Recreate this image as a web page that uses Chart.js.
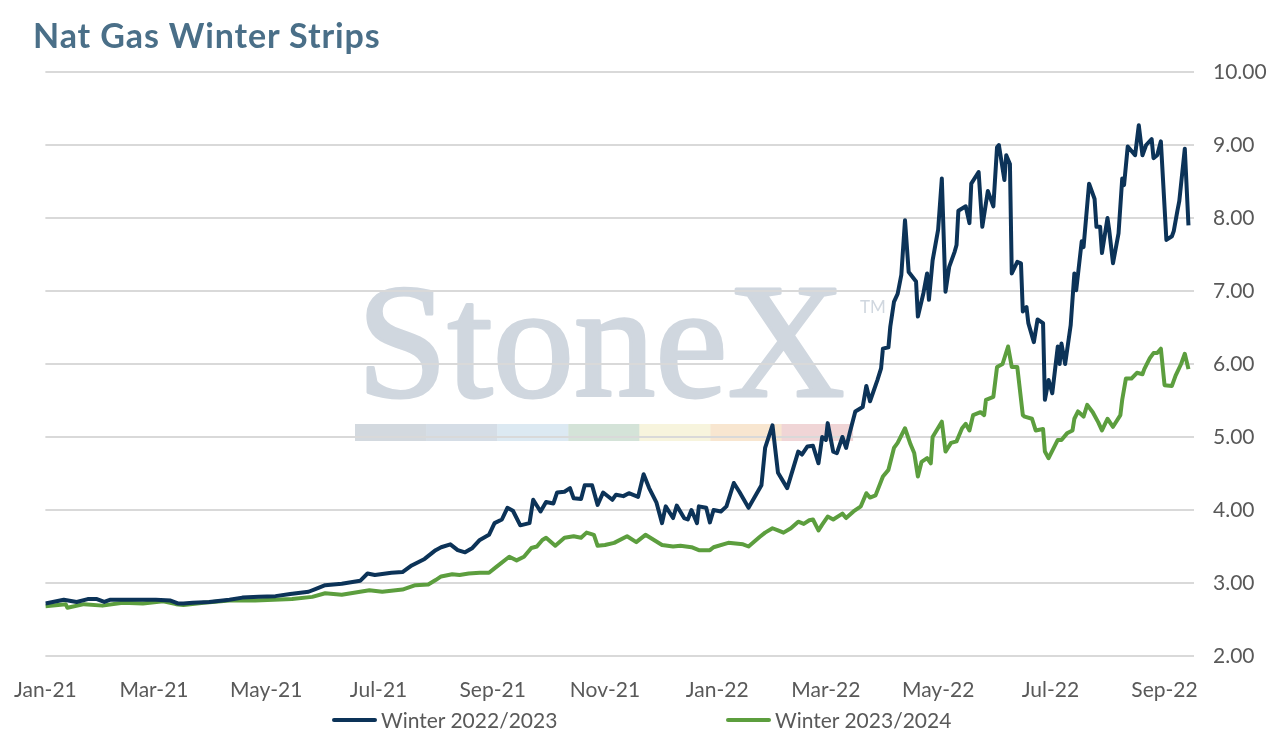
<!DOCTYPE html>
<html>
<head>
<meta charset="utf-8">
<script src="https://cdn.jsdelivr.net/npm/chart.js@4.4.1/dist/chart.umd.min.js"></script>
<style>
  body { margin: 0; background: #fff; }
  #wrap { position: relative; width: 1272px; height: 743px; overflow: hidden; font-family: Lato, "Noto Sans", sans-serif; }
  #chart { position: absolute; left: 0; top: 0; }
  #title { position: absolute; left: 33px; top: 18px; font-size: 34px; line-height: 34px; font-weight: 700; letter-spacing: 0.9px; color: #4a6f88; white-space: nowrap; }
  .leg { position: absolute; top: 708px; font-size: 21px; line-height: 24px; color: #595959; white-space: nowrap; display: flex; align-items: center; }
  .mk { display: inline-block; width: 45px; height: 4px; border-radius: 2px; margin-right: 4px; }
</style>
</head>
<body>
<div id="wrap">
  <canvas id="chart" width="1272" height="743"></canvas>
  <div id="title">Nat Gas Winter Strips</div>
  <div class="leg" style="left:332px"><span class="mk" style="background:#0c3358"></span>Winter 2022/2023</div>
  <div class="leg" style="left:726px"><span class="mk" style="background:#5c9e3e"></span>Winter 2023/2024</div>
</div>
<script>
// x values are days since 1 Jan 2021
const tickLabels = ['Jan-21', 'Mar-21', 'May-21', 'Jul-21', 'Sep-21', 'Nov-21',
                    'Jan-22', 'Mar-22', 'May-22', 'Jul-22', 'Sep-22'];
const yTicks = [2, 3, 4, 5, 6, 7, 8, 9, 10];

const w2223Days = [
    0, 10, 17, 23, 28, 32, 35, 45, 53, 60,
    68, 72, 75, 80, 89, 100, 107, 116, 125, 133,
    143, 147, 152, 161, 171, 175, 179, 188, 194, 199,
    206, 212, 215, 220, 224, 228, 232, 236, 241, 244,
    248, 251, 254, 258, 263, 265, 269, 272, 276, 278,
    282, 285, 287, 291, 293, 297, 300, 303, 308, 310,
    314, 317, 322, 325, 328, 332, 335, 337, 341, 343,
    347, 349, 351, 354, 355, 359, 361, 363, 367, 370,
    374, 377, 382, 389, 391, 395, 398, 403, 409, 411,
    414, 417, 420, 422, 424, 425, 428, 430, 433, 435,
    437, 440, 444, 446, 448, 452, 454, 455, 458, 459,
    461, 463, 465, 467, 469, 473, 474, 477, 479, 480,
    482, 485, 487, 489, 491, 494, 495, 496, 500, 502,
    503, 507, 509, 512, 515, 517, 518, 521, 522, 524,
    525, 528, 530, 531, 533, 534, 537, 539, 542, 543,
    545, 547, 550, 551, 552, 554, 557, 559, 560, 563,
    564, 567, 570, 571, 573, 574, 577, 578, 580, 583,
    585, 586, 588, 592, 594, 596, 598, 601, 602, 604,
    606, 609, 612, 613, 615, 616, 619, 621
];
const w2223Prices = [
    2.72, 2.77, 2.74, 2.78, 2.78, 2.74, 2.77, 2.77, 2.77, 2.77,
    2.76, 2.72, 2.72, 2.73, 2.74, 2.77, 2.80, 2.81, 2.82, 2.85,
    2.88, 2.92, 2.97, 2.99, 3.03, 3.13, 3.11, 3.14, 3.15, 3.24,
    3.33, 3.45, 3.49, 3.53, 3.45, 3.42, 3.48, 3.59, 3.66, 3.82,
    3.87, 4.03, 3.99, 3.79, 3.82, 4.14, 3.98, 4.11, 4.09, 4.24,
    4.25, 4.30, 4.16, 4.15, 4.34, 4.34, 4.07, 4.24, 4.14, 4.21,
    4.19, 4.23, 4.18, 4.49, 4.30, 4.10, 3.82, 4.05, 3.89, 4.06,
    3.89, 3.87, 4.00, 3.82, 4.05, 4.03, 3.83, 4.00, 3.98, 4.05,
    4.37, 4.25, 4.03, 4.34, 4.85, 5.16, 4.51, 4.30, 4.80, 4.76,
    4.87, 4.88, 4.64, 5.00, 4.96, 5.19, 4.80, 4.78, 5.00, 4.85,
    5.06, 5.35, 5.41, 5.70, 5.49, 5.78, 5.94, 6.21, 6.23, 6.51,
    6.85, 6.96, 7.22, 7.97, 7.26, 7.13, 6.65, 6.97, 7.24, 6.88,
    7.42, 7.84, 8.54, 6.99, 7.33, 7.54, 7.63, 8.10, 8.16, 7.93,
    8.47, 8.63, 7.88, 8.37, 8.16, 8.97, 9.00, 8.52, 8.86, 8.74,
    7.24, 7.40, 7.38, 6.72, 6.78, 6.56, 6.30, 6.61, 6.56, 5.51,
    5.78, 5.60, 6.24, 6.00, 6.28, 6.00, 6.53, 7.24, 7.01, 7.68,
    7.60, 8.47, 8.26, 7.88, 7.88, 7.52, 8.00, 7.82, 7.38, 7.79,
    8.54, 8.45, 8.98, 8.86, 9.27, 8.86, 9.00, 9.08, 8.82, 8.86,
    9.05, 7.70, 7.75, 7.82, 8.10, 8.23, 8.95, 7.90
];

const w2324Days = [
    0, 11, 12, 21, 31, 42, 53, 64, 71, 75,
    86, 100, 114, 134, 145, 152, 161, 176, 183, 194,
    201, 208, 212, 215, 221, 225, 230, 236, 241, 245,
    252, 256, 260, 264, 267, 270, 272, 277, 282, 287,
    291, 294, 298, 300, 304, 309, 316, 321, 326, 335,
    341, 345, 351, 355, 361, 363, 371, 379, 382, 388,
    391, 395, 398, 401, 405, 409, 412, 415, 417, 420,
    422, 425, 428, 433, 435, 439, 443, 446, 448, 451,
    455, 458, 461, 463, 467, 470, 472, 474, 476, 479,
    481, 482, 487, 489, 492, 495, 498, 500, 502, 504,
    508, 510, 511, 515, 517, 520, 523, 525, 528, 531,
    532, 536, 538, 542, 543, 545, 550, 552, 555, 558,
    559, 561, 564, 566, 569, 572, 574, 577, 580, 584,
    585, 587, 590, 593, 596, 597, 600, 602, 604, 606,
    608, 612, 614, 617, 619, 621
];
const w2324Prices = [
    2.68, 2.71, 2.66, 2.71, 2.69, 2.73, 2.72, 2.75, 2.71, 2.70,
    2.73, 2.76, 2.76, 2.78, 2.81, 2.86, 2.84, 2.90, 2.88, 2.91,
    2.97, 2.98, 3.04, 3.09, 3.12, 3.11, 3.13, 3.14, 3.14, 3.22,
    3.36, 3.31, 3.36, 3.48, 3.50, 3.59, 3.62, 3.51, 3.62, 3.64,
    3.62, 3.69, 3.66, 3.51, 3.52, 3.55, 3.64, 3.56, 3.66, 3.52,
    3.50, 3.51, 3.49, 3.45, 3.45, 3.49, 3.55, 3.53, 3.50, 3.63,
    3.69, 3.75, 3.72, 3.69, 3.75, 3.84, 3.81, 3.86, 3.87, 3.72,
    3.80, 3.91, 3.87, 3.95, 3.89, 3.98, 4.05, 4.23, 4.17, 4.20,
    4.46, 4.55, 4.85, 4.92, 5.12, 4.90, 4.78, 4.46, 4.66, 4.71,
    4.64, 5.00, 5.21, 4.80, 4.92, 4.94, 5.12, 5.18, 5.09, 5.30,
    5.34, 5.30, 5.51, 5.55, 5.96, 6.00, 6.24, 5.96, 5.96, 5.30,
    5.28, 5.25, 5.09, 5.11, 4.80, 4.71, 4.96, 4.96, 5.05, 5.09,
    5.25, 5.35, 5.28, 5.44, 5.34, 5.20, 5.09, 5.25, 5.14, 5.30,
    5.51, 5.80, 5.80, 5.88, 5.86, 5.93, 6.08, 6.15, 6.15, 6.21,
    5.71, 5.70, 5.84, 6.00, 6.14, 5.93
];

const MONTHS = ['Jan', 'Feb', 'Mar', 'Apr', 'May', 'Jun', 'Jul', 'Aug', 'Sep', 'Oct', 'Nov', 'Dec'];
const DAY0 = Date.UTC(2021, 0, 1);

function labelToDay(label) {
    const [mon, yy] = label.split('-');
    return Math.round((Date.UTC(2000 + Number(yy), MONTHS.indexOf(mon), 1) - DAY0) / 864e5);
}

const tickDays = tickLabels.map(labelToDay);

function toPoints(days, prices) {
    return days.map((d, i) => ({ x: d, y: prices[i] }));
}

const textColor = '#595959';
const tickFont = { family: 'Lato', size: 21 };

// StoneX logo behind the grid
const watermark = {
    id: 'watermark',
    beforeDraw(chart) {
        const ctx = chart.ctx;
        ctx.save();
        ctx.fillStyle = '#d0d7df';
        ctx.strokeStyle = '#d0d7df';
        ctx.lineWidth = 3;
        ctx.lineJoin = 'round';
        ctx.textBaseline = 'alphabetic';
        ctx.font = '160px "Liberation Serif"';
        const w = ctx.measureText('StoneX').width;
        const size = 160 * 488 / w;
        ctx.font = size + 'px "Liberation Serif"';
        ctx.fillText('StoneX', 357, 396);
        ctx.strokeText('StoneX', 357, 396);
        ctx.font = '17px Lato';
        ctx.fillText('TM', 860, 313);
        const bars = ['#d3d9df', '#d5dde6', '#dce9f2', '#d4e3d8', '#f7f4dd', '#f8e6d0', '#f0d5d6'];
        bars.forEach((c, i) => {
            ctx.fillStyle = c;
            ctx.fillRect(355 + i * 71.1, 424, 71.5, 17);
        });
        ctx.restore();
    }
};

new Chart(document.getElementById('chart'), {
    type: 'line',
    data: {
        datasets: [
            {
                label: 'Winter 2022/2023',
                data: toPoints(w2223Days, w2223Prices),
                borderColor: '#0c3358',
                borderWidth: 4,
                pointRadius: 0,
                tension: 0,
                borderJoinStyle: 'round'
            },
            {
                label: 'Winter 2023/2024',
                data: toPoints(w2324Days, w2324Prices),
                borderColor: '#5c9e3e',
                borderWidth: 4,
                pointRadius: 0,
                tension: 0,
                borderJoinStyle: 'round'
            }
        ]
    },
    options: {
        responsive: false,
        animation: false,
        layout: { padding: { left: 41, top: 72, right: 0, bottom: 0 } },
        plugins: {
            legend: { display: false },
            tooltip: { enabled: false }
        },
        scales: {
            x: {
                type: 'linear',
                min: 0,
                max: 624,
                grid: { display: false },
                border: { display: false },
                afterBuildTicks: scale => {
                    scale.ticks = tickDays.map(v => ({ value: v }));
                },
                afterFit: scale => { scale.height = 87; },
                ticks: {
                    autoSkip: false,
                    maxRotation: 0,
                    padding: 14,
                    color: textColor,
                    font: tickFont,
                    callback: v => tickLabels[tickDays.indexOf(v)]
                }
            },
            y: {
                position: 'right',
                min: 2,
                max: 10,
                afterBuildTicks: scale => {
                    scale.ticks = yTicks.map(v => ({ value: v }));
                },
                afterFit: scale => { scale.width = 78; },
                grid: { color: '#d9d9d9', lineWidth: 2, drawTicks: false },
                border: { display: false },
                ticks: {
                    padding: 19,
                    color: textColor,
                    font: tickFont,
                    callback: v => v.toFixed(2)
                }
            }
        }
    },
    plugins: [watermark]
});
</script>
</body>
</html>
